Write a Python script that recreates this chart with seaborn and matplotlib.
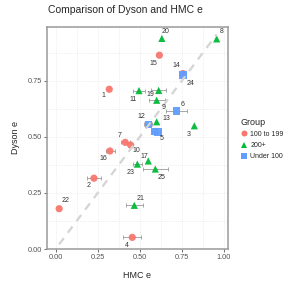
import matplotlib

matplotlib.use("Agg")
import matplotlib.pyplot as plt
import numpy as np
import pandas as pd
import seaborn as sns

# values
point_id = [1, 2, 3, 4, 5, 6, 7, 8, 9, 10, 11, 12, 13,
            14, 15, 16, 17, 18, 19, 20, 21, 22, 23, 24, 25]
group = ["100 to 199", "100 to 199", "200+", "100 to 199", "Under 100",
         "Under 100", "100 to 199", "200+", "200+", "100 to 199", "200+",
         "Under 100", "200+", "100 to 199", "100 to 199", "100 to 199",
         "200+", "Under 100", "200+", "200+", "200+", "100 to 199",
         "200+", "Under 100", "200+"]
hmc_e = [0.319, 0.228, 0.825, 0.456, 0.588, 0.720, 0.414, 0.958, 0.601,
         0.446, 0.496, 0.551, 0.601, 0.757, 0.617, 0.323, 0.551, 0.609,
         0.613, 0.632, 0.468, 0.021, 0.486, 0.757, 0.593]
dyson_e = [0.713, 0.316, 0.550, 0.052, 0.524, 0.616, 0.476, 0.938, 0.664,
           0.464, 0.707, 0.557, 0.568, 0.783, 0.865, 0.4375, 0.393, 0.522,
           0.708, 0.940, 0.195, 0.180, 0.379, 0.777, 0.357]
hmc_lo = [np.nan, 0.188, np.nan, 0.402, 0.575, 0.657, 0.389, np.nan, 0.553,
          np.nan, 0.462, 0.526, np.nan, np.nan, np.nan, 0.299, np.nan, 0.598,
          0.567, np.nan, 0.418, np.nan, 0.462, 0.742, 0.518]
hmc_hi = [np.nan, 0.270, np.nan, 0.508, 0.602, 0.783, 0.443, np.nan, 0.651,
          np.nan, 0.532, 0.571, np.nan, np.nan, np.nan, 0.353, np.nan, 0.622,
          0.658, np.nan, 0.518, np.nan, 0.512, 0.772, 0.670]

group_order = ["100 to 199", "200+", "Under 100"]

df = pd.DataFrame({"id": point_id, "group": group, "hmc": hmc_e,
                   "dyson": dyson_e, "lo": hmc_lo, "hi": hmc_hi})

palette = {"100 to 199": "#F8766D", "200+": "#00BA38", "Under 100": "#619CFF"}
markers = {"100 to 199": "o", "200+": "^", "Under 100": "s"}

# where the repelled labels ended up, in pixels (right, down) from the point
label_nudge = {1: (-6, 6.7), 2: (-5.7, 7.7), 3: (-6, 8.3), 4: (-5.6, 7.7),
               5: (7.5, 7.3), 6: (6, -6.7), 7: (-6, -6.6), 8: (5.3, -7.3),
               9: (6.6, 7.4), 10: (5.3, 5.3), 11: (-6.3, 9.3),
               12: (-6.6, -7.6), 13: (9.3, -3.4), 14: (-6.7, -7.6),
               15: (-6, 8.4), 16: (-6.7, 7.3), 17: (-4, -4.3),
               19: (-8.7, 3.7), 20: (3.3, -7.3), 21: (6.4, -6.6),
               22: (6.7, -8), 23: (-6.6, 8.3), 24: (7.3, 9), 25: (6.7, 8.7)}

sns.set_style("white")
plt.rcParams["font.family"] = ["Liberation Sans", "DejaVu Sans"]

fig = plt.figure(figsize=(2.91, 2.91), dpi=100)
ax = fig.add_axes([0.1605, 0.1443, 0.624, 0.763])

eb = df.dropna(subset=["lo", "hi"])
ax.errorbar(eb["hmc"], eb["dyson"],
            xerr=[eb["hmc"] - eb["lo"], eb["hi"] - eb["hmc"]],
            fmt="none", ecolor="#9a9a9a", elinewidth=0.6, capsize=1.4,
            capthick=0.6, zorder=2)

sns.scatterplot(data=df, x="hmc", y="dyson", hue="group", style="group",
                hue_order=group_order, style_order=group_order,
                palette=palette, markers=markers, s=27, linewidth=0,
                alpha=0.95, ax=ax, legend=False, zorder=3)

lo, hi = df["hmc"].min(), df["hmc"].max()
ax.plot([lo, hi], [lo, hi], color="#d4d4d4", lw=1.6, ls=(0, (3.5, 3)),
        zorder=4)

for _, row in df.iterrows():
    if row["id"] not in label_nudge:
        continue
    dx, dy = label_nudge[row["id"]]
    ax.annotate(str(row["id"]), (row["hmc"], row["dyson"]),
                xytext=(dx, -dy), textcoords="offset pixels",
                ha="center", va="center", fontsize=5, color="#333333",
                zorder=5)

ax.set_xlim(-0.053, 1.027)
ax.set_ylim(0, 0.991)
ax.set_xticks([0, 0.25, 0.5, 0.75, 1.0])
ax.set_xticklabels(["0.00", "0.25", "0.50", "0.75", "1.00"])
ax.set_yticks([0, 0.25, 0.5, 0.75])
ax.set_yticklabels(["0.00", "0.25", "0.50", "0.75"])
ax.set_xticks(np.arange(0.125, 1.0, 0.25), minor=True)
ax.set_yticks(np.arange(0.125, 1.0, 0.25), minor=True)
ax.grid(which="both", color="#e2e2e2", lw=0.5, ls=":")
ax.set_axisbelow(True)
ax.tick_params(axis="both", which="major", length=2, width=0.6,
               color="#555555", labelsize=5.3, labelcolor="#555555", pad=1.5,
               bottom=True, left=True)
ax.tick_params(axis="both", which="minor", length=0)
for sp in ax.spines.values():
    sp.set_color("#9a9a9a")
    sp.set_linewidth(1.1)

ax.set_xlabel("HMC e", fontsize=6.5, labelpad=7)
ax.set_ylabel("Dyson e", fontsize=6.5, labelpad=5.5)
fig.text(47.5 / 291, 1 - 10 / 291, "Comparison of Dyson and HMC e",
         fontsize=7.5, ha="left", va="center")

handles = [plt.Line2D([], [], marker=markers[g], color=palette[g], ls="",
                      markersize=4.3, markeredgewidth=0)
           for g in group_order]
leg = fig.legend(handles, group_order, title="Group", loc="center left",
                 bbox_to_anchor=(237 / 291, 1 - 139 / 291), frameon=False,
                 fontsize=5, title_fontsize=6.5, handlelength=1,
                 handletextpad=0.4, labelspacing=0.6, borderpad=0)
leg._legend_box.align = "left"

fig.savefig("out.png", dpi=100)
